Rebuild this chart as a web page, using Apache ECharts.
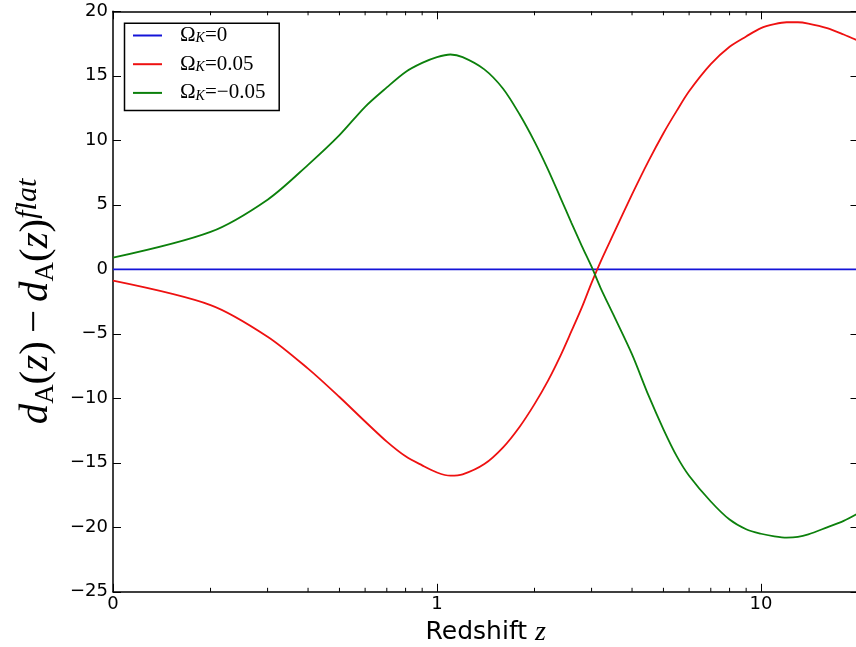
<!DOCTYPE html>
<html>
<head>
<meta charset="utf-8">
<script src="https://cdn.jsdelivr.net/npm/echarts@6/dist/echarts.min.js"></script>
<style>
html,body{margin:0;padding:0;background:#fff;}
#chart{width:856px;height:647px;}
</style>
</head>
<body>
<div id="chart"></div>
<script>
// Redshift sample points
const zValues = [0.1,0.2,0.3,0.4,0.5,0.6,0.7,0.8,0.9,1.0,1.1,1.2,1.4,1.6,1.8,2.0,2.2,2.4,2.6,2.8,3.0,3.2,3.5,4.0,4.5,5.0,5.5,6.0,7.0,8.0,9.0,10,11,12,13,14,16,18,20];
// Omega_K = 0
const flatValues = [0,0,0,0,0,0,0,0,0,0,0,0,0,0,0,0,0,0,0,0,0,0,0,0,0,0,0,0,0,0,0,0,0,0,0,0,0,0,0];
// Omega_K = 0.05
const openValues = [-0.88,-2.77,-5.22,-7.7,-9.9,-11.8,-13.36,-14.5,-15.2,-15.75,-16.0,-15.9,-15.1,-13.8,-12.2,-10.45,-8.65,-6.75,-4.8,-2.95,-1.05,0.6,2.7,5.8,8.4,10.55,12.3,13.8,15.9,17.25,18.05,18.7,19.0,19.15,19.15,19.05,18.7,18.2,17.7];
// Omega_K = -0.05
const closedValues = [0.9,2.9,5.4,8.1,10.4,12.6,14.1,15.3,16.0,16.45,16.65,16.45,15.5,14.0,12.0,9.9,7.75,5.6,3.6,1.8,0.2,-1.45,-3.5,-6.6,-9.8,-12.4,-14.5,-16.0,-18.0,-19.4,-20.15,-20.5,-20.7,-20.8,-20.75,-20.55,-20.0,-19.5,-18.9];

const seriesNames = ['flat','open','closed'];
const legendLabels = {flat:'{o|Ω}{k|K}{e|=0}', open:'{o|Ω}{k|K}{e|=0.05}', closed:'{o|Ω}{k|K}{e|=−0.05}'};
const minorTicks = [0.2,0.3,0.4,0.5,0.6,0.7,0.8,0.9,2,3,4,5,6,7,8,9];
const xMin = 0.1, xMax = 20;
const yMin = -25, yMax = 20, yStep = 5;

const chart = echarts.init(document.getElementById('chart'), null, {renderer:'canvas'});

function pairs(vals){ return zValues.map((z,i)=>[z, vals[i]]); }
function isPow10(v){ const l = Math.log10(v); return Math.abs(l - Math.round(l)) < 1e-6; }

const tickStyle = {color:'#000', width:1};
const serifIt = 'Liberation Serif';
const axisLineStyle = {show:true, onZero:false, lineStyle:{color:'#000', width:1.5}};
const colBlue = '#1414d8', colRed = '#ee1111', colGreen = '#0c800c';

const option = {
  backgroundColor:'#fff',
  animation:false,
  grid:{left:113, top:11.3, width:745.5, height:580.5, containLabel:false, outerBoundsMode:'none'},
  legend:{
    data:seriesNames,
    orient:'vertical',
    left:133, top:25, padding:0,
    icon:'rect',
    itemWidth:29, itemHeight:2, itemGap:7.7,
    formatter: n => legendLabels[n],
    textStyle:{
      padding:[0,0,0,13],
      lineHeight:20,
      rich:{
        o:{fontFamily:serifIt, fontSize:21, color:'#000', lineHeight:20},
        k:{fontFamily:serifIt, fontStyle:'italic', fontSize:14, color:'#000', verticalAlign:'bottom', lineHeight:13},
        e:{fontFamily:serifIt, fontSize:21, color:'#000', lineHeight:20}
      }
    }
  },
  graphic:[{
    type:'rect', left:122, top:20.7, z:100,
    shape:{width:154.7, height:87.3},
    style:{fill:null, stroke:'#000', lineWidth:1.5}, silent:true
  }],
  xAxis:[{
    type:'log', logBase:10, min:xMin, max:xMax, position:'bottom',
    axisLine:axisLineStyle,
    axisTick:{show:true, inside:true, length:8, lineStyle:tickStyle},
    splitLine:{show:false},
    axisLabel:{show:true, margin:4, color:'#000', fontFamily:'DejaVu Sans', fontSize:18,
      formatter: v => isPow10(v) ? (v < 1 ? '0' : String(Math.round(v))) : ''},
    name:'{a|Redshift }{b|z}', nameLocation:'middle', nameGap:25,
    nameTextStyle:{rich:{
      a:{fontFamily:'DejaVu Sans', fontSize:25, color:'#000', lineHeight:28},
      b:{fontFamily:serifIt, fontStyle:'italic', fontSize:28, color:'#000', lineHeight:28}
    }}
  },{
    type:'log', logBase:10, min:xMin, max:xMax, position:'top',
    axisLine:axisLineStyle,
    axisTick:{show:true, inside:true, length:8, lineStyle:tickStyle},
    splitLine:{show:false}, axisLabel:{show:false}
  }],
  yAxis:[{
    type:'value', min:yMin, max:yMax, interval:yStep, position:'left',
    axisLine:axisLineStyle,
    axisTick:{show:true, inside:true, length:8, lineStyle:tickStyle},
    splitLine:{show:false},
    axisLabel:{margin:5, color:'#000', fontFamily:'DejaVu Sans', fontSize:18,
      formatter: v => String(v).replace('-', '−')},
    name:'{d|d}{s|A}{p|(}{d|z}{p|)}{m|−}{d|d}{s|A}{p|(}{d|z}{p|)}{u|flat}',
    nameLocation:'middle', nameRotate:90, nameGap:53,
    nameTextStyle:{rich:{
      d:{fontFamily:serifIt, fontStyle:'italic', fontSize:41, color:'#000', lineHeight:46},
      p:{fontFamily:serifIt, fontSize:41, color:'#000', lineHeight:46},
      m:{fontFamily:serifIt, fontSize:41, color:'#000', lineHeight:46, padding:[0,8,0,8]},
      s:{fontFamily:serifIt, fontSize:27, color:'#000', lineHeight:22, verticalAlign:'bottom'},
      u:{fontFamily:serifIt, fontStyle:'italic', fontSize:30, color:'#000', lineHeight:22, verticalAlign:'top'}
    }}
  },{
    type:'value', min:yMin, max:yMax, interval:yStep, position:'right',
    axisLine:axisLineStyle,
    axisTick:{show:true, inside:true, length:8, lineStyle:tickStyle},
    splitLine:{show:false}, axisLabel:{show:false}
  }],
  series:[
    {name:'flat', type:'line', data:pairs(flatValues), symbol:'none', color:colBlue,
      lineStyle:{color:colBlue, width:1.8}, z:3},
    {name:'open', type:'line', data:pairs(openValues), symbol:'none', color:colRed, smooth:0.3,
      lineStyle:{color:colRed, width:1.8}, z:3},
    {name:'closed', type:'line', data:pairs(closedValues), symbol:'none', color:colGreen, smooth:0.3,
      lineStyle:{color:colGreen, width:1.8}, z:3},
    {name:'minor', type:'custom', silent:true, clip:false, z:10,
      data: minorTicks.map(v => [v, yMin]),
      renderItem:(params, api) => {
        const v = api.value(0);
        const b = api.coord([v, yMin]);
        const t = api.coord([v, yMax]);
        return {type:'group', children:[
          {type:'line', shape:{x1:b[0], y1:b[1], x2:b[0], y2:b[1]-4}, style:{stroke:'#000', lineWidth:1}},
          {type:'line', shape:{x1:t[0], y1:t[1], x2:t[0], y2:t[1]+4}, style:{stroke:'#000', lineWidth:1}}
        ]};
      }
    }
  ]
};
chart.setOption(option);
</script>
</body>
</html>
